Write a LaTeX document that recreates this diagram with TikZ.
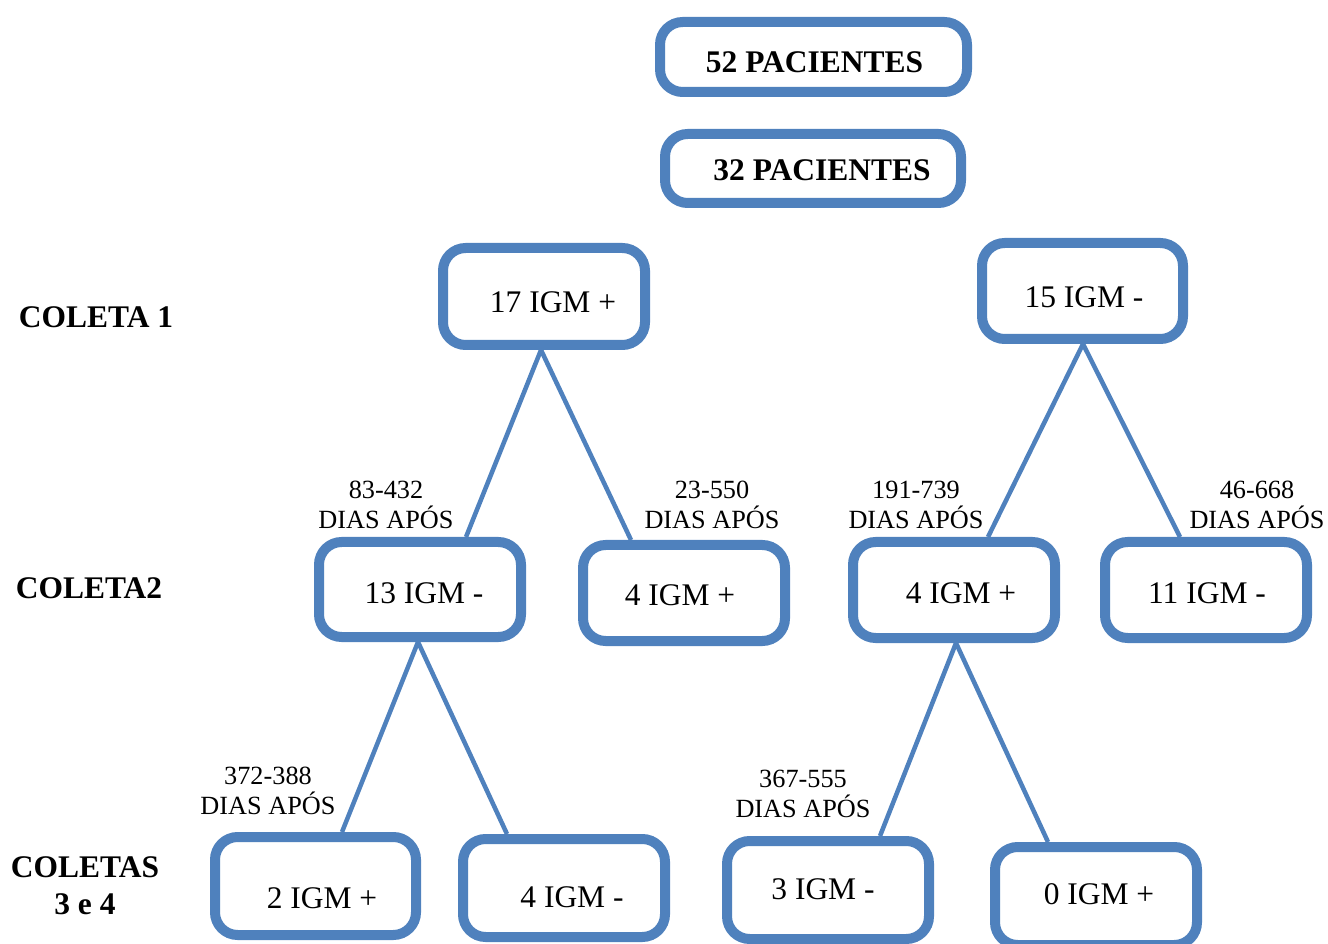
\documentclass[tikz,border=0pt]{standalone}
\usepackage{fontspec}
\setmainfont{Liberation Serif}
\usetikzlibrary{calc}
\definecolor{boxblue}{HTML}{4F81BD}
\tikzset{
  box/.style={draw=boxblue, line width=7.5pt, rounded corners=17pt, inner sep=0pt, fill=white},
  link/.style={draw=boxblue, line width=3.4pt},
  big/.style={font=\fontsize{23.6}{28}\selectfont, inner sep=0pt},
  bigb/.style={font=\fontsize{23.6}{28}\selectfont\bfseries, inner sep=0pt},
  lab/.style={font=\fontsize{19.7}{22.5}\selectfont, align=center, inner sep=0pt},
}
\begin{document}
\begin{tikzpicture}[x=0.75pt, y=-0.75pt]
\useasboundingbox (0,0) rectangle (1328,944);
\clip (0,0) rectangle (1328,944);
% boxes
\node[box, minimum width=307*0.75pt, minimum height=70*0.75pt] (b52) at (813.5,57) {};
\node[box, minimum width=296*0.75pt, minimum height=69*0.75pt] (b32) at (813,168.5) {};
\node[box, minimum width=202*0.75pt, minimum height=97*0.75pt] (b17) at (544,296.5) {};
\node[box, minimum width=201*0.75pt, minimum height=96*0.75pt] (b15) at (1082.5,291) {};
\node[box, minimum width=202*0.75pt, minimum height=95*0.75pt] (b13) at (420,589.5) {};
\node[box, minimum width=202*0.75pt, minimum height=96*0.75pt] (b4a) at (684,593) {};
\node[box, minimum width=202*0.75pt, minimum height=96*0.75pt] (b4b) at (954,590) {};
\node[box, minimum width=202*0.75pt, minimum height=96*0.75pt] (b11) at (1206,590) {};
\node[box, minimum width=201*0.75pt, minimum height=98*0.75pt] (b2) at (315.5,886) {};
\node[box, minimum width=202*0.75pt, minimum height=98*0.75pt] (b4c) at (564,888) {};
\node[box, minimum width=202*0.75pt, minimum height=98*0.75pt] (b3) at (828,890) {};
\node[box, minimum width=202*0.75pt, minimum height=98*0.75pt] (b0) at (1096,896) {};
% connectors
\draw[link] ($(b17.south)+(-3,0)$) -- ($(b13.north)+(46,0)$);
\draw[link] ($(b17.south)+(-3,0)$) -- ($(b4a.north)+(-53,0)$);
\draw[link] ($(b15.south)+(0.5,0)$) -- ($(b4b.north)+(34,0)$);
\draw[link] ($(b15.south)+(0.5,0)$) -- ($(b11.north)+(-26,0)$);
\draw[link] ($(b13.south)+(-2,0)$) -- ($(b2.north)+(26.5,0)$);
\draw[link] ($(b13.south)+(-2,0)$) -- ($(b4c.north)+(-57,0)$);
\draw[link] ($(b4b.south)+(2,0)$) -- ($(b3.north)+(52,0)$);
\draw[link] ($(b4b.south)+(2,0)$) -- ($(b0.north)+(-48,0)$);
% box texts
\node[bigb] (t52) at (814.5,62) {52 PACIENTES};
\node[bigb] (t32) at (822,170) {32 PACIENTES};
\node[big] (t17) at (553,302) {17 IGM +};
\node[big] (t15) at (1084,297) {15 IGM -};
\node[big] (t13) at (424,593) {13 IGM -};
\node[big] (t4a) at (680,595) {4 IGM +};
\node[big] (t4b) at (961,593) {4 IGM +};
\node[big] (t11) at (1207,593) {11 IGM -};
\node[big] (t2) at (322,898) {2 IGM +};
\node[big] (t4c) at (572,897) {4 IGM -};
\node[big] (t3) at (823,889) {3 IGM -};
\node[big] (t0) at (1099,894) {0 IGM +};
% row labels
\node[bigb] (c1) at (96,317) {COLETA 1};
\node[bigb] (c2) at (89,588) {COLETA2};
\node[bigb, align=center, font=\fontsize{23.6}{27.75}\selectfont\bfseries] (c3) at (85,886) {COLETAS\\3 e 4};
% edge labels
\node[lab] (l1) at (386,505) {83-432\\DIAS APÓS};
\node[lab] (l2) at (712,505) {23-550\\DIAS APÓS};
\node[lab] (l3) at (916,505) {191-739\\DIAS APÓS};
\node[lab] (l4) at (1257,505) {46-668\\DIAS APÓS};
\node[lab] (l5) at (268,791) {372-388\\DIAS APÓS};
\node[lab] (l6) at (803,794) {367-555\\DIAS APÓS};
\end{tikzpicture}
\end{document}
